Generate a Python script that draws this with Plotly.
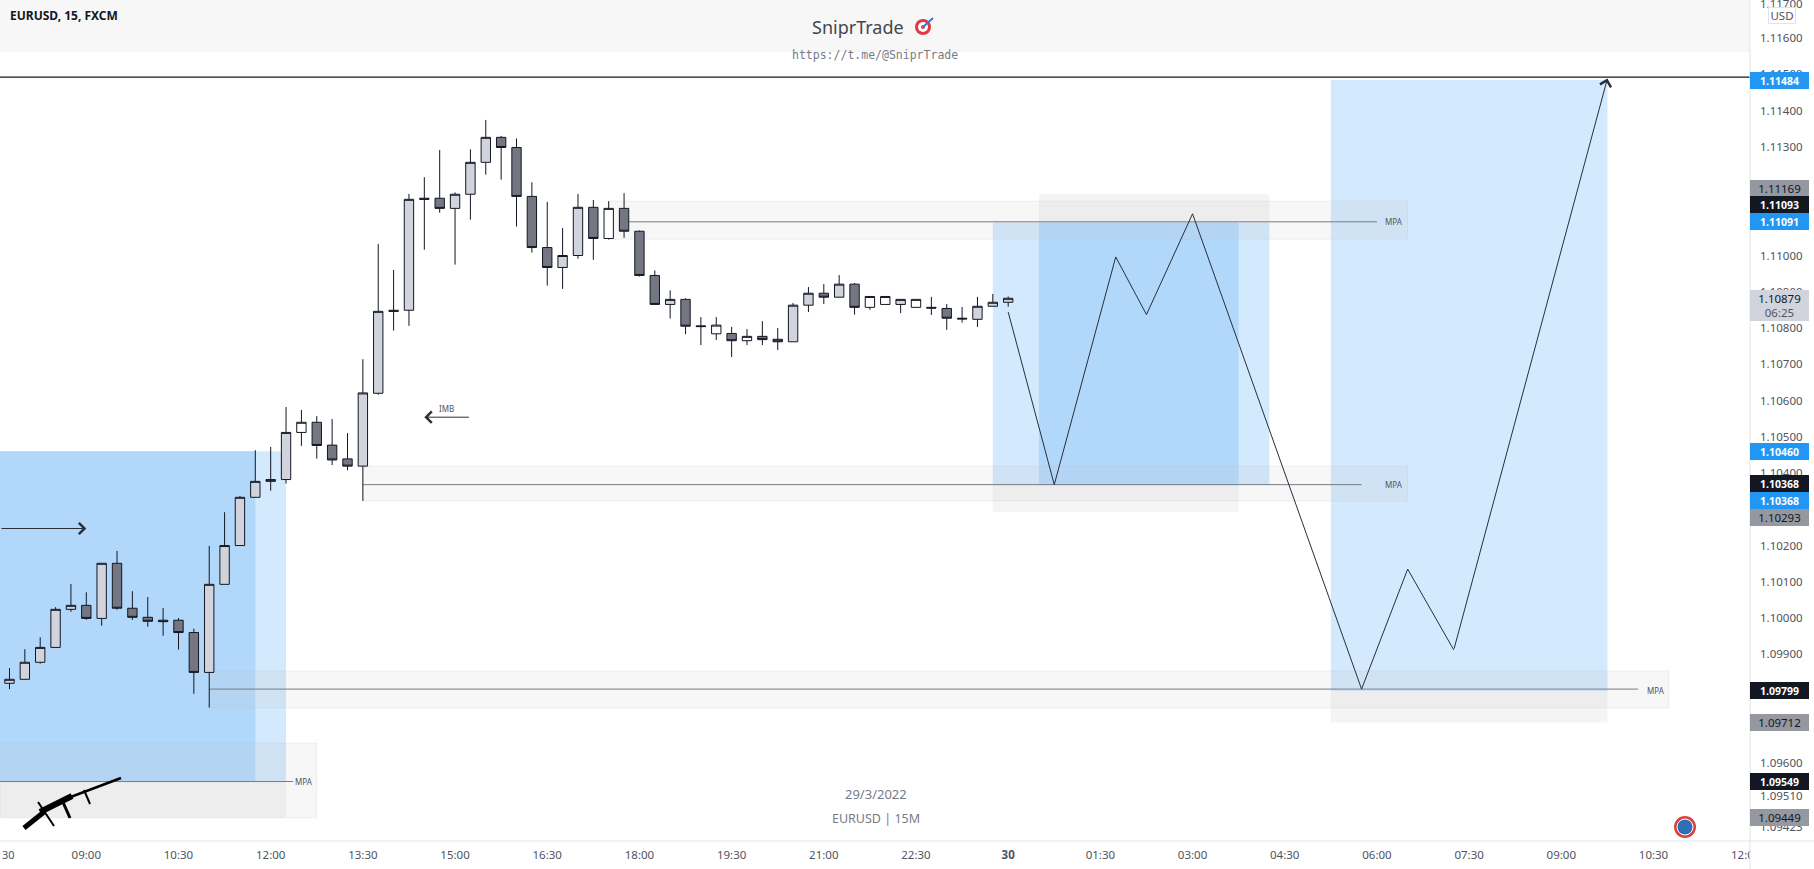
import pandas as pd
import plotly.graph_objects as go

# 15m candles, first one is 29/3 07:45
OPEN = [1.09820, 1.09831, 1.09878, 1.09919, 1.10024, 1.10035, 1.09999, 1.10151, 1.10027, 1.10002, 1.09994,
        1.09994, 1.09960, 1.09850, 1.10093, 1.10200, 1.10333, 1.10377, 1.10382, 1.10512, 1.10540, 1.10477,
        1.10439, 1.10419, 1.10620, 1.10849, 1.10849, 1.11158, 1.11158, 1.11130, 1.11169, 1.11257, 1.11326,
        1.11298, 1.11163, 1.11022, 1.10967, 1.11000, 1.11133, 1.11047, 1.11130, 1.11067, 1.10945, 1.10865,
        1.10879, 1.10806, 1.10784, 1.10785, 1.10765, 1.10777, 1.10769, 1.10762, 1.10863, 1.10896, 1.10885,
        1.10921, 1.10857, 1.10865, 1.10865, 1.10857, 1.10857, 1.10854, 1.10827, 1.10824, 1.10860, 1.10871]
HIGH = [1.09862, 1.09914, 1.09947, 1.10030, 1.10094, 1.10071, 1.10151, 1.10185, 1.10074, 1.10058, 1.10028,
        1.10000, 1.09971, 1.10199, 1.10292, 1.10337, 1.10463, 1.10472, 1.10582, 1.10574, 1.10557, 1.10549,
        1.10510, 1.10714, 1.11032, 1.10960, 1.11170, 1.11216, 1.11291, 1.11174, 1.11293, 1.11374, 1.11330,
        1.11323, 1.11202, 1.11148, 1.11076, 1.11170, 1.11153, 1.11150, 1.11172, 1.11069, 1.10959, 1.10904,
        1.10882, 1.10830, 1.10830, 1.10803, 1.10797, 1.10819, 1.10800, 1.10869, 1.10913, 1.10921, 1.10946,
        1.10924, 1.10887, 1.10887, 1.10879, 1.10879, 1.10886, 1.10866, 1.10858, 1.10886, 1.10894, 1.10887]
LOW = [1.09804, 1.09831, 1.09874, 1.09919, 1.10017, 1.09995, 1.09979, 1.10023, 1.09995, 1.09976, 1.09951,
       1.09913, 1.09791, 1.09753, 1.10093, 1.10200, 1.10333, 1.10351, 1.10371, 1.10475, 1.10440, 1.10422,
       1.10408, 1.10323, 1.10616, 1.10793, 1.10806, 1.11016, 1.11118, 1.10975, 1.11099, 1.11223, 1.11209,
       1.11080, 1.11008, 1.10917, 1.10908, 1.10991, 1.10988, 1.11044, 1.11049, 1.10942, 1.10865, 1.10826,
       1.10783, 1.10753, 1.10767, 1.10720, 1.10753, 1.10753, 1.10739, 1.10762, 1.10844, 1.10866, 1.10885,
       1.10837, 1.10850, 1.10865, 1.10841, 1.10857, 1.10836, 1.10795, 1.10815, 1.10803, 1.10860, 1.10859]
CLOSE = [1.09831, 1.09878, 1.09919, 1.10024, 1.10035, 1.09999, 1.10151, 1.10027, 1.10002, 1.09991, 1.09990,
         1.09960, 1.09850, 1.10093, 1.10200, 1.10333, 1.10377, 1.10382, 1.10512, 1.10540, 1.10476, 1.10436,
         1.10419, 1.10621, 1.10846, 1.10846, 1.11155, 1.11155, 1.11130, 1.11169, 1.11257, 1.11326, 1.11298,
         1.11163, 1.11022, 1.10967, 1.11000, 1.11133, 1.11047, 1.11130, 1.11067, 1.10945, 1.10865, 1.10879,
         1.10805, 1.10804, 1.10808, 1.10765, 1.10777, 1.10768, 1.10762, 1.10863, 1.10896, 1.10885, 1.10921,
         1.10857, 1.10887, 1.10887, 1.10879, 1.10879, 1.10855, 1.10827, 1.10825, 1.10860, 1.10871, 1.10882]
# body colour of each candle: L light, W white, D dark
BODY = list("LLLLLDLDDDDDDLLLLLLWDDDLLDLDDLLLDDDDLLDWDDDLDDWDWDDLLDLDWWLWDDDLLL")

# 1.11700 sits half off the top of the plot, it is placed by hand below
Y_TICKS = [1.116, 1.115, 1.114, 1.113, 1.111, 1.110, 1.109, 1.108, 1.107, 1.106, 1.105, 1.104, 1.102,
           1.101, 1.100, 1.099, 1.096, 1.0951, 1.09423]
Y_LABELS = ["1.11600", "1.11500", "1.11400", "1.11300", "1.11100", "1.11000", "1.10900", "1.10800",
            "1.10700", "1.10600", "1.10500", "1.10400", "1.10200", "1.10100", "1.10000", "1.09900", "1.09600",
            "1.09510", "1.09423"]
X_TICKS = ["2022-03-29 09:00", "2022-03-29 10:30", "2022-03-29 12:00", "2022-03-29 13:30", "2022-03-29 15:00",
           "2022-03-29 16:30", "2022-03-29 18:00", "2022-03-29 19:30", "2022-03-29 21:00", "2022-03-29 22:30",
           "2022-03-30 00:00", "2022-03-30 01:30", "2022-03-30 03:00", "2022-03-30 04:30", "2022-03-30 06:00",
           "2022-03-30 07:30", "2022-03-30 09:00", "2022-03-30 10:30", "2022-03-30 12:00"]
X_LABELS = ["09:00", "10:30", "12:00", "13:30", "15:00", "16:30", "18:00", "19:30", "21:00", "22:30", "<b>30</b>",
            "01:30", "03:00", "04:30", "06:00", "07:30", "09:00", "10:30", "12:00"]

# projected path drawn on the chart
PATH_TIME = ["2022-03-30 00:00", "2022-03-30 00:45", "2022-03-30 01:45", "2022-03-30 02:15", "2022-03-30 03:00",
             "2022-03-30 05:45", "2022-03-30 06:30", "2022-03-30 07:15", "2022-03-30 09:45"]
PATH_PRICE = [1.10844, 1.10368, 1.10996, 1.10837, 1.11115, 1.09804, 1.10135, 1.09912, 1.11488]

# price-axis flags
FLAG_TEXT = ["1.11484", "1.11169", "1.11093", "1.11091", "1.10460", "1.10368", "1.10368", "1.10293", "1.09799",
             "1.09712", "1.09549", "1.09449"]
FLAG_PRICE = [1.11484, 1.11169, 1.11093, 1.11091, 1.10460, 1.10368, 1.10368, 1.10293, 1.09799, 1.09712,
              1.09549, 1.09449]
FLAG_KIND = ["blue", "grey", "black", "blue", "blue", "black", "blue", "grey", "black", "grey", "black", "grey"]

T0 = "2022-03-29 07:35:45"
T1 = "2022-03-30 12:04:12"
W, H = 1814, 869
PLOT_W, PLOT_H = 1750, 841

DARK_BLUE = "#b1d8fb"
LIGHT_BLUE = "#d3e9fd"
BAND = "rgba(190,190,195,0.13)"
STOP = "rgba(130,130,140,0.09)"
INK = "#131722"
FLAG_COL = {"blue": "#2196f3", "grey": "#9598a1", "black": "#131722"}
FLAG_INK = {"blue": "white", "grey": "#131722", "black": "white"}
# flags get pushed apart so they do not overlap
FLAG_NUDGE = [0, 6, 17, 1, 0, 1, -16, -6, 0, 0, 0, 0]
FONT = "Noto Sans"


def zone(t0, t1, p0, p1, fill, line=None):
    return dict(type="rect", xref="x", yref="y", x0=t0, x1=t1, y0=p0, y1=p1, fillcolor=fill, layer="below",
                line=dict(width=1 if line else 0, color=line or "rgba(0,0,0,0)"))


def level(t0, t1, p):
    return dict(type="line", xref="x", yref="y", x0=t0, x1=t1, y0=p, y1=p, layer="below",
                line=dict(color="#787b86", width=1))


def pix(kind, x0, y0, x1, y1, **kw):
    # decoration placed in screen pixels
    return dict(type=kind, xref="paper", yref="paper", x0=x0 / PLOT_W, x1=x1 / PLOT_W,
                y0=1 - y0 / PLOT_H, y1=1 - y1 / PLOT_H, **kw)


def label(text, x, y, size, color, family=FONT, xanchor="center", **kw):
    return dict(text=text, xref="paper", yref="paper", x=x / PLOT_W, y=1 - y / PLOT_H, yanchor="middle",
                xanchor=xanchor, showarrow=False, font=dict(family=family, size=size, color=color), **kw)


def arrow(x, y, ax, ay):
    return dict(text="", x=x, y=y, ax=ax, ay=ay, axref="x", ayref="y", showarrow=True, arrowhead=4,
                arrowwidth=1, arrowsize=2.2, arrowcolor="#2a2e39")


times = pd.date_range("2022-03-29 07:45", periods=len(OPEN), freq="15min")
fig = go.Figure()

for kind, fill in (("L", "#d1d4dc"), ("W", "#ffffff"), ("D", "#747782")):
    idx = [i for i, b in enumerate(BODY) if b == kind]
    style = dict(fillcolor=fill, line=dict(color=INK, width=1))
    fig.add_trace(go.Candlestick(
        x=[times[i] for i in idx],
        open=[OPEN[i] for i in idx], high=[HIGH[i] for i in idx],
        low=[LOW[i] for i in idx], close=[CLOSE[i] for i in idx],
        increasing=style, decreasing=style, showlegend=False, hoverinfo="skip"))

# last leg is drawn by the arrow annotation
fig.add_trace(go.Scatter(x=PATH_TIME[:-1], y=PATH_PRICE[:-1], mode="lines", line=dict(color="#2a2e39", width=1),
                         showlegend=False, hoverinfo="skip"))

shapes = [
    pix("rect", 0, 0, PLOT_W, 51, fillcolor="#f7f7f7", line=dict(width=0), layer="below"),
    pix("line", 0, 51, PLOT_W, 51, line=dict(color="#f0f0f0", width=1), layer="below"),
    # left position
    zone(T0, "2022-03-29 12:15", 1.09549, 1.10460, LIGHT_BLUE),
    zone(T0, "2022-03-29 11:45", 1.09549, 1.10460, DARK_BLUE),
    zone(T0, "2022-03-29 12:15", 1.09449, 1.09549, STOP),
    # middle position
    zone("2022-03-29 23:45", "2022-03-30 04:15", 1.10368, 1.11091, LIGHT_BLUE),
    zone("2022-03-30 00:30", "2022-03-30 03:45", 1.10368, 1.11091, DARK_BLUE),
    zone("2022-03-30 00:30", "2022-03-30 04:15", 1.11091, 1.11169, STOP),
    zone("2022-03-29 23:45", "2022-03-30 03:45", 1.10293, 1.10368, STOP),
    # right position
    zone("2022-03-30 05:15", "2022-03-30 09:45", 1.09799, 1.11484, LIGHT_BLUE),
    zone("2022-03-30 05:15", "2022-03-30 09:45", 1.09712, 1.09799, STOP),
    # MPA bands
    zone(T0, "2022-03-29 12:45", 1.09449, 1.09655, BAND, "rgba(190,190,195,0.2)"),
    zone("2022-03-29 17:30", "2022-03-30 06:30", 1.11045, 1.11150, BAND, "rgba(190,190,195,0.2)"),
    zone("2022-03-29 13:30", "2022-03-30 06:30", 1.10323, 1.10419, BAND, "rgba(190,190,195,0.2)"),
    zone("2022-03-29 11:00", "2022-03-30 10:45", 1.09752, 1.09854, BAND, "rgba(190,190,195,0.2)"),
    level(T0, "2022-03-29 12:22", 1.09549),
    level("2022-03-29 17:45", "2022-03-30 06:00", 1.11093),
    level("2022-03-29 13:30", "2022-03-30 05:45", 1.10368),
    level("2022-03-29 11:00", "2022-03-30 10:15", 1.09804),
    dict(type="line", xref="x", yref="y", x0=T0, x1=T1, y0=1.11492, y1=1.11492,
         line=dict(color=INK, width=1.2), layer="below"),
    # cover for the clipped 12:00 label, then the axis lines
    pix("rect", PLOT_W, PLOT_H, W, H, fillcolor="white", line=dict(width=0), layer="above"),
    pix("line", 0, PLOT_H, W, PLOT_H, line=dict(color="#e0e3eb", width=1), layer="above"),
    pix("line", PLOT_W, 0, PLOT_W, H, line=dict(color="#e0e3eb", width=1), layer="above"),
    # target emoji by the title
    pix("circle", 915, 19, 931, 35, fillcolor="#e0383e", line=dict(width=0), layer="above"),
    pix("circle", 918, 22, 928, 32, fillcolor="white", line=dict(width=0), layer="above"),
    pix("circle", 921, 25, 925, 29, fillcolor="#e0383e", line=dict(width=0), layer="above"),
    pix("line", 923, 27, 933, 18, line=dict(color="#3a7bd5", width=2), layer="above"),
    # round badge bottom right
    pix("circle", 1674, 816, 1696, 838, fillcolor="#d8433f", line=dict(width=0), layer="above"),
    pix("circle", 1677, 819, 1693, 835, fillcolor="#2f6fb5", line=dict(color="white", width=1), layer="above"),
    # rifle scribble bottom left
    pix("line", 68, 798, 121, 778, line=dict(color="black", width=2.5), layer="above"),
    pix("line", 40, 812, 72, 796, line=dict(color="black", width=6), layer="above"),
    pix("line", 24, 828, 44, 812, line=dict(color="black", width=5), layer="above"),
    pix("line", 38, 802, 54, 826, line=dict(color="black", width=2), layer="above"),
    pix("line", 62, 800, 70, 818, line=dict(color="black", width=3), layer="above"),
    pix("line", 84, 790, 90, 804, line=dict(color="black", width=2), layer="above"),
]

notes = [
    label("<b>EURUSD, 15, FXCM</b>", 8, 16, 12, INK, xanchor="left"),
    label("SniprTrade", 858, 27, 18, "#434651"),
    label("https://t.me/@SniprTrade", 875, 55, 11.5, "#787b86", family="DejaVu Sans Mono"),
    label("29/3/2022", 876, 794, 13, "#787b86"),
    label("EURUSD | 15M", 876, 818, 12.5, "#787b86"),
    label("1.11700", 1781, 3, 11.5, "#50535e"),
    label("USD", 1782, 16, 11.5, "#50535e", width=26, height=15, bgcolor="white", bordercolor="#e0e3eb",
          borderwidth=1, borderpad=0),
    label("30", 0, 854, 11, "#50535e", xanchor="left"),
    dict(text="IMB", x="2022-03-29 14:52", y=1.10579, showarrow=False,
         font=dict(family=FONT, size=8, color="#50535e")),
    arrow("2022-03-29 14:30", 1.10554, "2022-03-29 15:15", 1.10554),
    arrow("2022-03-29 09:00", 1.10247, T0, 1.10247),
    arrow(PATH_TIME[-1], PATH_PRICE[-1], PATH_TIME[-2], PATH_PRICE[-2]),
]
for t, x, y in (("MPA", "2022-03-30 06:17", 1.11093), ("MPA", "2022-03-30 06:17", 1.10368),
                ("MPA", "2022-03-30 10:32", 1.09799), ("MPA", "2022-03-29 12:33", 1.09549)):
    notes.append(dict(text=t, x=x, y=y, showarrow=False, font=dict(family=FONT, size=8, color="#50535e")))

for text, price, kind, nudge in zip(FLAG_TEXT, FLAG_PRICE, FLAG_KIND, FLAG_NUDGE):
    shown = f"<b>{text}</b>" if FLAG_INK[kind] == "white" else text
    notes.append(dict(text=shown, xref="paper", yref="y", x=1, y=price, yshift=nudge, xanchor="left",
                      yanchor="middle", showarrow=False, width=59, height=17, align="center",
                      bgcolor=FLAG_COL[kind], borderwidth=0, borderpad=0,
                      font=dict(family=FONT, size=10.5 if FLAG_INK[kind] == "white" else 11.5,
                                color=FLAG_INK[kind])))
# last price flag has the countdown under it
notes.append(dict(text="1.10879<br><span style='color:#50535e'>06:25</span>", xref="paper", yref="y", x=1,
                  y=1.10879, yshift=-6, xanchor="left", yanchor="middle", showarrow=False, width=59, height=31,
                  align="center", bgcolor="#d1d4dc", borderwidth=0, borderpad=0,
                  font=dict(family=FONT, size=11.5, color=INK)))

fig.update_layout(
    width=W, height=H, margin=dict(l=0, r=W - PLOT_W, t=0, b=H - PLOT_H),
    paper_bgcolor="white", plot_bgcolor="white", showlegend=False, shapes=shapes, annotations=notes,
    boxgap=0.39, boxgroupgap=0,
    font=dict(family=FONT, size=11.5, color="#50535e"),
    xaxis=dict(type="date", range=[T0, T1], rangeslider=dict(visible=False), showgrid=False, zeroline=False,
               tickmode="array", tickvals=X_TICKS, ticktext=X_LABELS, ticks="", tickangle=0, ticklabelstandoff=5),
    yaxis=dict(range=[1.09385, 1.117048], side="right", showgrid=False, zeroline=False, tickmode="array",
               tickvals=Y_TICKS, ticktext=Y_LABELS, ticks="", ticklabelstandoff=9),
)

fig.write_html("out.html", config=dict(displayModeBar=False),
               post_script="document.body.style.margin='0';document.body.style.overflow='hidden';")
